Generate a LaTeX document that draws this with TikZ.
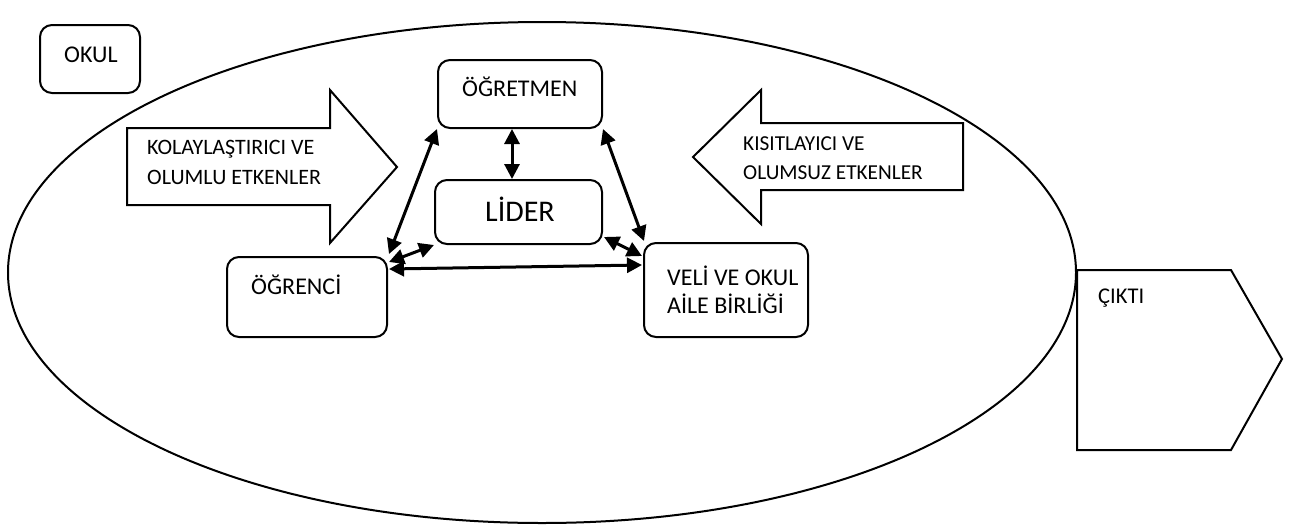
\documentclass[tikz,border=0pt]{standalone}
\usepackage{fontspec}
\setmainfont{Carlito}
\usetikzlibrary{arrows.meta}
\begin{document}
\begin{tikzpicture}[x=1pt,y=-1pt,line join=miter,
  box/.style={draw,line width=2pt,rounded corners=12pt,fill=white,inner sep=0pt},
  shapeline/.style={draw,line width=2pt,fill=white},
  lbl/.style={anchor=base west,inner sep=0pt,font=\fontsize{24}{28}\selectfont},
  link/.style={{Triangle[length=15pt,width=15pt]}-{Triangle[length=15pt,width=15pt]},line width=3pt}]
\useasboundingbox (0,0) rectangle (1299,528);
% school ellipse
\draw[line width=2pt] (542,272.5) ellipse [x radius=534pt, y radius=250.5pt];
% OKUL box
\node[box,minimum width=100pt,minimum height=68pt] (okul) at (90,59) {};
\node[lbl] (okult) at (64,62) {OKUL};
% output shape
\draw[shapeline] (1077,270) -- (1231,270) -- (1282,359) -- (1231,450) -- (1077,450) -- cycle;
\node[lbl,font=\fontsize{22.5}{26}\selectfont] (cikti) at (1098,303) {ÇIKTI};
% left block arrow
\draw[shapeline] (127,128) -- (330,128) -- (330,90) -- (397,167) -- (330,243) -- (330,205) -- (127,205) -- cycle;
\node[lbl,font=\fontsize{22}{26}\selectfont] (kol1) at (147,154) {KOLAYLAŞTIRICI VE};
\node[lbl,font=\fontsize{22}{26}\selectfont] (kol2) at (147,184) {OLUMLU ETKENLER};
% right block arrow
\draw[shapeline] (963,123) -- (761,123) -- (761,90) -- (693,157) -- (761,224) -- (761,190) -- (963,190) -- cycle;
\node[lbl,font=\fontsize{21.3}{25}\selectfont] (kis1) at (743,150) {KISITLAYICI VE};
\node[lbl,font=\fontsize{21.3}{25}\selectfont] (kis2) at (743,179) {OLUMSUZ ETKENLER};
% main boxes
\node[box,minimum width=164pt,minimum height=68pt] (tch) at (520,94) {};
\node[lbl] (tcht) at (462,96) {ÖĞRETMEN};
\node[box,minimum width=167pt,minimum height=64pt] (lid) at (518.5,212) {};
\node[lbl,font=\fontsize{30}{34}\selectfont] (lidt) at (485,221) {LİDER};
\node[box,minimum width=160pt,minimum height=80pt] (stu) at (307,297) {};
\node[lbl] (stut) at (251,294) {ÖĞRENCİ};
\node[box,minimum width=164pt,minimum height=94pt] (vel) at (726,290) {};
\node[lbl] (vel1) at (667,285) {VELİ VE OKUL};
\node[lbl] (vel2) at (667,313) {AİLE BİRLİĞİ};
% connectors
\draw[link] ([xshift=-8pt]tch.south) -- ([xshift=-6.5pt]lid.north);
\draw[link] (tch.south west) -- ([xshift=1pt,yshift=2pt]stu.north east);
\draw[link] (tch.south east) -- ([xshift=1pt,yshift=1pt]vel.north west);
\draw[link] (lid.south west) -- ([xshift=1pt,yshift=-6pt]stu.north east);
\draw[link] ([xshift=1pt,yshift=8pt]lid.south east) -- ([xshift=-1pt,yshift=-14pt]vel.north west);
\draw[link] ([xshift=1pt,yshift=-13pt]stu.north east) -- ([xshift=-1pt,yshift=-23pt]vel.north west);
\end{tikzpicture}
\end{document}
